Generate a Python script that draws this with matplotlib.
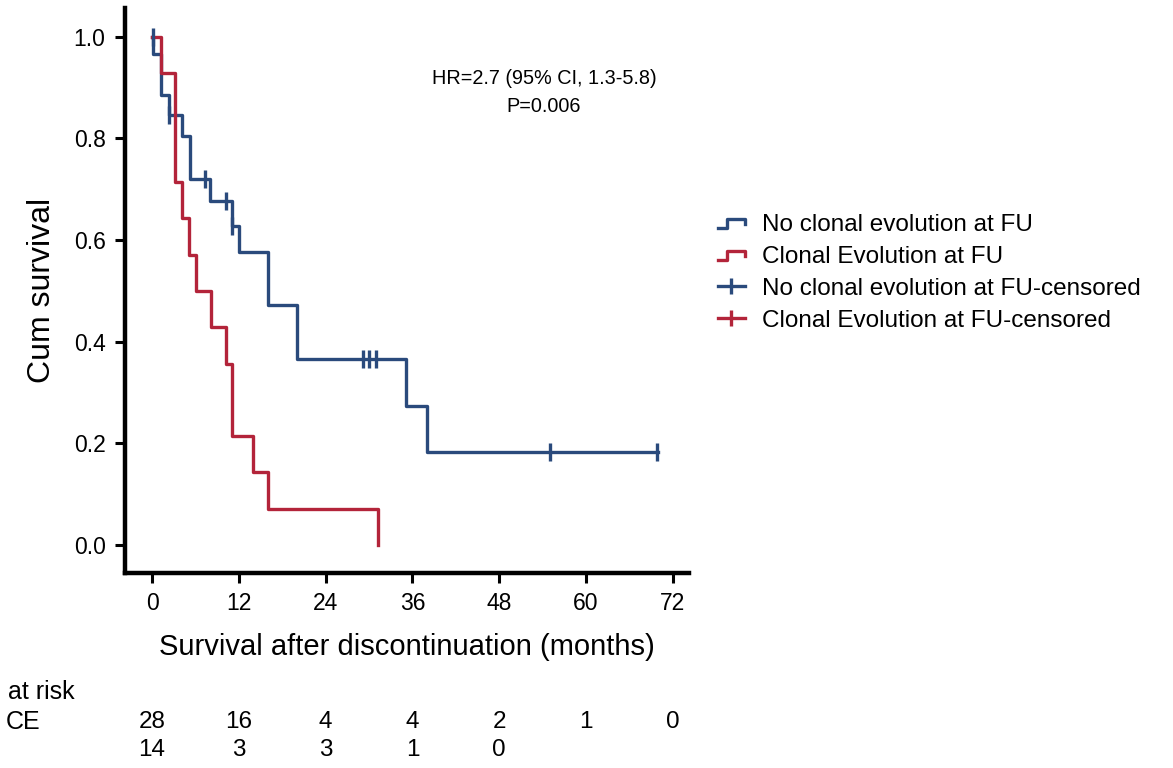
import numpy as np
import matplotlib
matplotlib.use("Agg")
import matplotlib.pyplot as plt
from matplotlib.lines import Line2D
from matplotlib.legend_handler import HandlerBase
from matplotlib.transforms import blended_transform_factory

plt.rcParams['font.family'] = ['Liberation Sans', 'DejaVu Sans']

# Kaplan-Meier curves (step starts, survival after step)
blue_t = [0, 0.2, 1.2, 2.3, 4.1, 5.25, 8.0, 11.0, 12.0, 16.0, 20.0, 35.1, 38.0]
blue_s = [1.0, 0.965, 0.886, 0.846, 0.804, 0.72, 0.676, 0.628, 0.577, 0.472, 0.365, 0.274, 0.182]
blue_end = 70.0
blue_cens = [0.1, 2.3, 7.3, 10.2, 11.1, 29.2, 30.0, 30.9, 55.0, 69.8]

red_t = [0, 1.2, 3.2, 4.2, 5.1, 6.1, 8.2, 10.2, 11.1, 14.0, 16.1, 31.2]
red_s = [1.0, 0.929, 0.714, 0.643, 0.571, 0.5, 0.429, 0.357, 0.214, 0.143, 0.071, 0.0]

xticks = [0, 12, 24, 36, 48, 60, 72]
risk_nce = [28, 16, 4, 4, 2, 1, 0]
risk_ce = [14, 3, 3, 1, 0]

labels = ['No clonal evolution at FU', 'Clonal Evolution at FU',
          'No clonal evolution at FU-censored', 'Clonal Evolution at FU-censored']

BLUE = '#2a4a7c'
RED = '#b3243a'


def level_at(ts, ss, t):
    i = np.searchsorted(ts, t, side='right') - 1
    return np.asarray(ss)[i]


class StepHandler(HandlerBase):
    # little step glyph used by the original legend
    def create_artists(self, legend, orig_handle, xd, yd, w, h, fontsize, trans):
        xs = np.array([0, 0.35, 0.35, 1.0, 1.0]) * w - xd
        ys = np.array([0.2, 0.2, 0.7, 0.7, 0.4]) * h - yd
        ln = Line2D(xs, ys, color=orig_handle.get_color(), lw=2.4, transform=trans)
        return [ln]


fig = plt.figure(figsize=(11.73, 7.68), dpi=100)
ax = fig.add_axes([0.1066, 0.254, 0.4806, 0.736])

bt = blue_t + [blue_end]
bs = blue_s + [blue_s[-1]]
ax.step(bt, bs, where='post', color=BLUE, lw=2.4)
ax.step(red_t, red_s, where='post', color=RED, lw=2.4)
cy = [level_at(blue_t, blue_s, c) for c in blue_cens]
ax.plot(blue_cens, cy, ls='none', marker='|', ms=13, mew=2.4, color=BLUE)

ax.set_xlim(-3.73, 74.2)
ax.set_ylim(-0.055, 1.057)
ax.set_xticks(xticks)
ax.set_yticks([0.0, 0.2, 0.4, 0.6, 0.8, 1.0])
ax.set_yticklabels(['0.0', '0.2', '0.4', '0.6', '0.8', '1.0'])
for s in ['top', 'right']:
    ax.spines[s].set_visible(False)
for s in ['left', 'bottom']:
    ax.spines[s].set_linewidth(3.2)
ax.tick_params(width=2.2, length=7, labelsize=16.5, pad=7)
ax.set_xlabel('Survival after discontinuation (months)', fontsize=21, labelpad=13)
ax.set_ylabel('Cum survival', fontsize=23, labelpad=12)

ax.text(0.743, 0.85, 'HR=2.7 (95% CI, 1.3-5.8)\nP=0.006', transform=ax.transAxes,
        ha='center', va='center', fontsize=14.3, linespacing=1.6)

h1 = Line2D([], [], color=BLUE)
h2 = Line2D([], [], color=RED)
h3 = Line2D([], [], color=BLUE, lw=2.4, marker='|', ms=12, mew=2.4)
h4 = Line2D([], [], color=RED, lw=2.4, marker='|', ms=12, mew=2.4)
fig.legend([h1, h2, h3, h4], labels, loc='upper left', bbox_to_anchor=(718 / 1173, 1 - 214 / 768),
           frameon=False, fontsize=17.5, handlelength=1.1, handletextpad=0.7,
           labelspacing=0.41, borderpad=0, borderaxespad=0,
           handler_map={h1: StepHandler(), h2: StepHandler()})

# numbers at risk (left side of the table is cut off in the source)
tr = blended_transform_factory(ax.transData, fig.transFigure)
fig.text(8 / 1173, 1 - 692 / 768, 'at risk', ha='left', va='center', fontsize=18)
fig.text(6 / 1173, 1 - 722 / 768, 'CE', ha='left', va='center', fontsize=18)
for x, n in zip(xticks, risk_nce):
    ax.text(x, 1 - 722 / 768, str(n), transform=tr, ha='center', va='center', fontsize=17.5)
for x, n in zip(xticks, risk_ce):
    ax.text(x, 1 - 750 / 768, str(n), transform=tr, ha='center', va='center', fontsize=17.5)

fig.savefig('out.png', dpi=100)
